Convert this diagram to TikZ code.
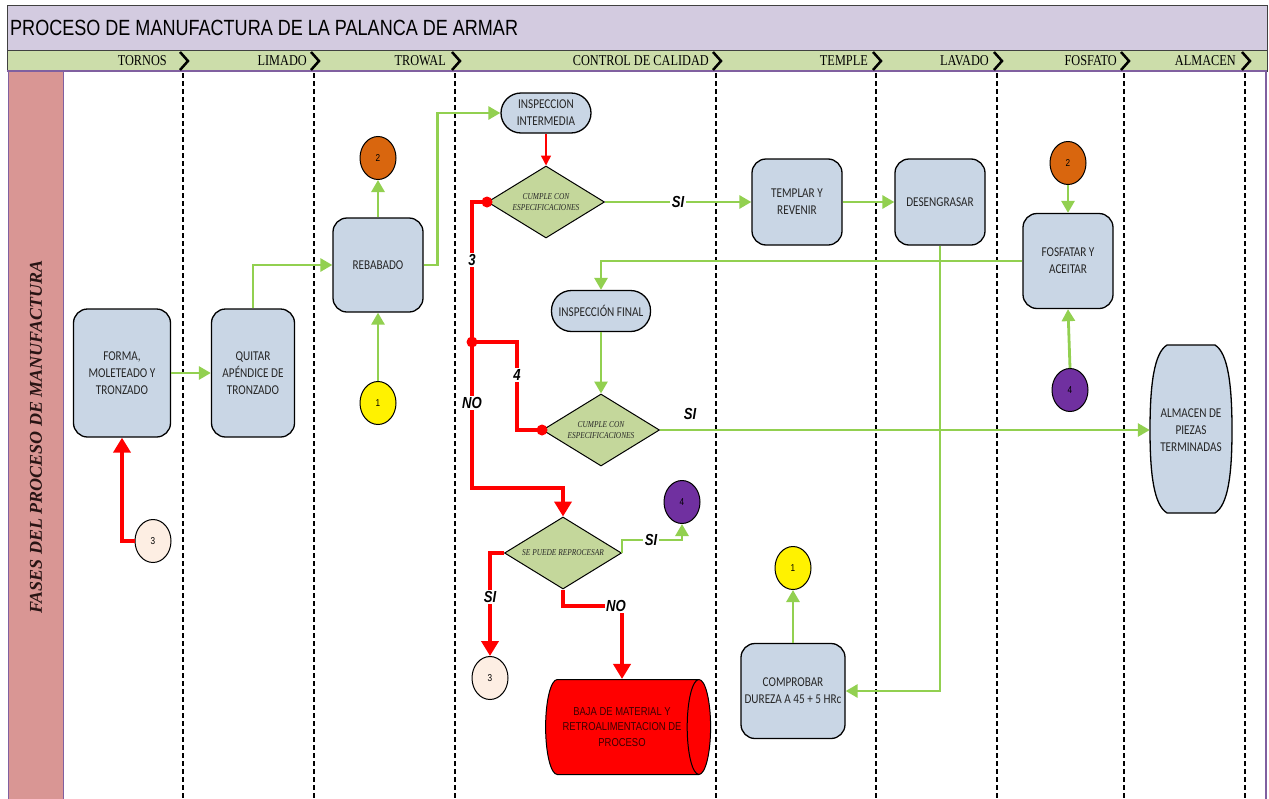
\documentclass[tikz,border=0pt]{standalone}
\usepackage{fontspec}
\usetikzlibrary{shapes.geometric,arrows.meta}
\newfontfamily\boxfont[FakeStretch=0.83]{Carlito}
\newfontfamily\arialx[FakeStretch=0.82]{Liberation Sans}
\newfontfamily\timesx[FakeStretch=0.82]{Liberation Serif}
\newfontfamily\timesside{Liberation Serif}
\definecolor{boxblue}{RGB}{201,214,229}
\definecolor{boxtext}{RGB}{38,38,38}
\definecolor{dmdgreen}{RGB}{196,215,155}
\definecolor{flowgreen}{RGB}{146,208,80}
\definecolor{titlelav}{RGB}{211,203,224}
\definecolor{headgreen}{RGB}{204,221,170}
\definecolor{framegray}{RGB}{64,64,64}
\definecolor{lanepurple}{RGB}{128,96,160}
\definecolor{sidepink}{RGB}{217,150,148}
\definecolor{sidetext}{RGB}{40,20,20}
\definecolor{orangec}{RGB}{217,102,14}
\definecolor{purplec}{RGB}{112,48,160}
\definecolor{beigec}{RGB}{253,238,227}
\begin{document}
\begin{tikzpicture}[x=1pt,y=-1pt,
  proc/.style={draw=black, line width=1.3pt, rounded corners=14pt, fill=boxblue,
    font=\boxfont\fontsize{13.5}{17}\selectfont, text=boxtext, align=center, inner sep=0pt},
  term/.style={proc, rounded corners=20pt},
  decide/.style={diamond, aspect=1.625, draw=black, line width=1pt, fill=dmdgreen, inner sep=0pt,
    minimum width=117pt, minimum height=72pt, align=center, text=boxtext,
    font=\timesx\itshape\fontsize{9}{11}\selectfont},
  circ/.style={ellipse, draw=black, line width=1pt, inner sep=0pt,
    minimum width=36pt, minimum height=43pt, font=\arialx\fontsize{10}{12}\selectfont},
  lane/.style={line width=2.8pt, dash pattern=on 5pt off 3pt},
  chev/.style={line width=2.5pt},
  headfont/.style={font=\timesx\fontsize{15}{16}\selectfont, inner sep=0pt},
  gflow/.style={draw=flowgreen, line width=2.8pt,
    -{Triangle[length=12pt,width=13pt]}},
  rflow/.style={draw=red, line width=4pt, -{Triangle[length=15pt,width=17pt]}},
  rline/.style={draw=red, line width=4pt},
  rthin/.style={draw=red, line width=1.5pt, -{Triangle[length=10pt,width=10pt]}},
  yn/.style={font=\arialx\bfseries\itshape\fontsize{16}{16}\selectfont, inner sep=1.5pt},
  ynw/.style={yn, fill=white},
  dot/.style={fill=red}
]
\useasboundingbox (0,0) rectangle (1269,798);
\fill[white] (0,0) rectangle (1269,798);

% title and lane header
\draw[fill=titlelav, draw=framegray, line width=1pt] (7,5) rectangle (1267,50);
\node[anchor=west, inner sep=0pt, font=\arialx\fontsize{22}{24}\selectfont] (title) at (10,28)
  {PROCESO DE MANUFACTURA DE LA PALANCA DE ARMAR};
\draw[fill=headgreen, draw=framegray, line width=1pt] (7,50) rectangle (1267,71);
\draw[lanepurple, line width=1.2pt] (7,71) -- (1267,71);

% side band
\draw[fill=sidepink, draw=lanepurple, line width=1pt] (8,71) rectangle (63,802);
\draw[lanepurple, line width=1.5pt] (1266,71) -- (1266,802);
\node[rotate=90, font=\timesside\bfseries\itshape\fontsize{18}{20}\selectfont, text=sidetext]
  (fases) at (36,437) {FASES DEL PROCESO DE MANUFACTURA};

% swimlanes
\foreach \x/\lab/\tx in {183/TORNOS/167, 314/LIMADO/307, 455/TROWAL/446,
    716/CONTROL DE CALIDAD/709, 876/TEMPLE/868, 997/LAVADO/989,
    1124/FOSFATO/1117, 1245/ALMACEN/1236}{
  \draw[lane] (\x,73) -- (\x,798);
  \draw[chev] (\x-3,52) -- (\x+5,61) -- (\x-3,70);
  \node[anchor=east, headfont] (hd-\x) at (\tx,61) {\lab};
}

% process steps
\node[proc, minimum width=97pt, minimum height=128pt] (forma) at (122,373) {FORMA,\\MOLETEADO Y\\TRONZADO};
\node[proc, minimum width=83pt, minimum height=128pt] (quitar) at (253,373) {QUITAR\\APÉNDICE DE\\TRONZADO};
\node[proc, minimum width=90pt, minimum height=94pt] (rebabado) at (378,265) {REBABADO};
\node[term, minimum width=90pt, minimum height=40pt] (insp) at (546,113) {INSPECCION\\INTERMEDIA};
\node[decide] (d1) at (546,202) {CUMPLE CON\\ESPECIFICACIONES};
\node[proc, minimum width=90pt, minimum height=86pt] (templar) at (797,202) {TEMPLAR Y\\REVENIR};
\node[proc, minimum width=90pt, minimum height=86pt] (deseng) at (940,202) {DESENGRASAR};
\node[proc, minimum width=90pt, minimum height=95pt] (fosf) at (1068,261) {FOSFATAR Y\\ACEITAR};
\node[term, minimum width=99pt, minimum height=41pt] (inspf) at (601,311) {INSPECCIÓN FINAL};
\node[decide] (d2) at (601,430) {CUMPLE CON\\ESPECIFICACIONES};
\node[decide] (d3) at (563,553) {SE PUEDE REPROCESAR};
\node[proc, minimum width=104pt, minimum height=95pt] (comprobar) at (793,691) {COMPROBAR\\DUREZA A 45 + 5 HRc};

% finished-parts store
\draw[fill=boxblue, line width=1.3pt]
  (1167,345) -- (1215,345)
  .. controls (1228,353) and (1232,385) .. (1232,430)
  .. controls (1232,475) and (1228,505) .. (1215,513)
  -- (1167,513)
  .. controls (1154,505) and (1150,475) .. (1150,430)
  .. controls (1150,385) and (1154,353) .. (1167,345) -- cycle;
\node[font=\boxfont\fontsize{13.5}{17}\selectfont, text=boxtext, align=center,
  minimum width=82pt, minimum height=168pt, inner sep=0pt] (almacen) at (1191,430)
  {ALMACEN DE\\PIEZAS\\TERMINADAS};

% scrap store
\node[cylinder, shape aspect=0.6, draw=black, line width=1pt, fill=red,
  minimum height=165pt, minimum width=95pt, inner sep=0pt, align=center,
  text={rgb,255:red,60;green,0;blue,0}, font=\arialx\fontsize{11.5}{15.5}\selectfont]
  (baja) at (622,727) {BAJA DE MATERIAL Y\\RETROALIMENTACION DE\\PROCESO};

% connectors
\node[circ, fill=orangec] (c2a) at (378,158) {2};
\node[circ, fill=yellow] (c1a) at (378,403) {1};
\node[circ, fill=orangec] (c2b) at (1068,163) {2};
\node[circ, fill=purplec] (c4a) at (1070,390) {4};
\node[circ, fill=purplec] (c4b) at (682,502) {4};
\node[circ, fill=beigec] (c3a) at (490,678) {3};
\node[circ, fill=beigec] (c3b) at (153,541) {3};
\node[circ, fill=yellow] (c1b) at (793,568) {1};

% green flow
\draw[gflow] (forma.east) -- (quitar.west);
\draw[gflow] (quitar.north) |- (rebabado.west);
\draw[gflow] (rebabado.north) -- (c2a.south);
\draw[gflow] (c1a.north) -- (rebabado.south);
\draw[gflow] (rebabado.east) -- ++(14,0) |- (insp.west);
\draw[gflow] (d1.east) -- (templar.west);
\node[ynw] (si1) at (678,202) {SI};
\draw[gflow] (templar.east) -- (deseng.west);
\draw[gflow] (c2b.south) -- (fosf.north);
\draw[gflow] (c4a.north) -- (fosf.south);
\draw[gflow] (fosf.west) -| (inspf.north);
\draw[gflow] (deseng.south) |- (comprobar.east);
\draw[gflow] (inspf.south) -- (d2.north);
\draw[gflow] (d2.east) -- (almacen.west);
\node[yn] (si2) at (690,414) {SI};
\draw[gflow] (comprobar.north) -- (c1b.south);
\draw[gflow] (d3.east) -- ++(0,-13) -| (c4b.south);
\node[ynw] (si3) at (651,540) {SI};

% red flow
\draw[rthin] (insp.south) -- (d1.north);
\coordinate (r1) at (472,202);
\coordinate (r2) at (472,342);
\coordinate (r3) at (472,488);
\coordinate (r4) at (517,430);
\draw[rflow] (d1.west) -- (r1) -- (r3) -| (d3.north);
\draw[rline] (r2) -| (r4) -- (d2.west);
\fill[dot] (d1.west) circle (5.5);
\fill[dot] (r2) circle (5.5);
\fill[dot] (d2.west) circle (5.5);
\node[ynw] (n3) at (472,260) {3};
\node[ynw] (n4) at (517,375) {4};
\node[ynw] (no1) at (472,403) {NO};
\draw[rflow] (c3b.west) -| (forma.south);
\draw[rflow] (d3.west) -| (c3a.north);
\node[ynw] (si4) at (490,597) {SI};
\draw[rflow] (d3.south) -- ++(0,16) -| (baja.north);
\node[ynw] (no2) at (616,606) {NO};
\end{tikzpicture}
\end{document}
